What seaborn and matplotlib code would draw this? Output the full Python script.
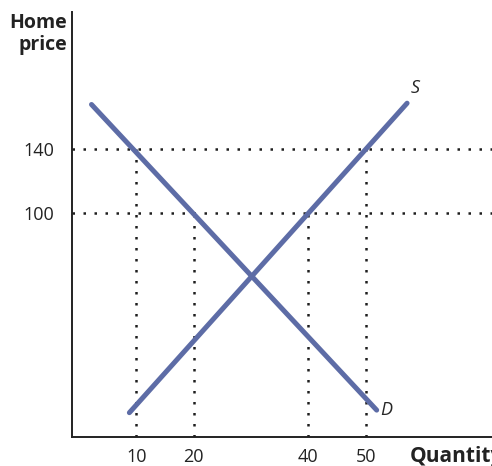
import matplotlib
matplotlib.use("Agg")
import matplotlib.pyplot as plt
import seaborn as sns
import pandas as pd

# values
quantity_ticks = [10, 20, 40, 50]
price_ticks = [100, 140]
demand_q = [2.2, 51.9]
demand_p = [168.0, -23.0]
supply_q = [8.8, 57.2]
supply_p = [-24.6, 168.8]
guide_q = [10, 20, 40, 50]
guide_p = [140, 100, 100, 140]

LINE_COLOUR = "#5d6ca6"
DOT_COLOUR = "#1e1e1e"

sns.set_style("white")
plt.rcParams["font.family"] = ["Open Sans", "DejaVu Sans"]

df = pd.concat(
    [
        pd.DataFrame({"q": supply_q, "p": supply_p, "curve": "S"}),
        pd.DataFrame({"q": demand_q, "p": demand_p, "curve": "D"}),
    ]
)

fig = plt.figure(figsize=(4.92, 4.66), dpi=100)
ax = fig.add_axes([72 / 492, 29 / 466, 1 - 72 / 492, 425 / 466])
ax.set_xlim(-1.2, 72.0)
ax.set_ylim(-39.8, 225.8)

# dotted guide lines
for q, p in zip(guide_q, guide_p):
    ax.plot([q, q], [-39.8, p], color=DOT_COLOUR, lw=1.8,
            dashes=(1, 3.4), dash_capstyle="butt", zorder=1)
for p in price_ticks:
    ax.axhline(p, color=DOT_COLOUR, lw=1.8, dashes=(1, 3.4),
               dash_capstyle="butt", zorder=1)

sns.lineplot(
    data=df, x="q", y="p", units="curve", estimator=None,
    color=LINE_COLOUR, lw=3.6, ax=ax, zorder=3, sort=False,
)

ax.text(58.6, 178.3, "S", style="italic", fontsize=13, ha="center", va="center")
ax.text(53.6, -22.9, "D", style="italic", fontsize=13, ha="center", va="center")

ax.set_xticks(quantity_ticks)
ax.set_yticks(price_ticks)
ax.set_xticklabels([str(v) for v in quantity_ticks])
ax.set_yticklabels([str(v) for v in price_ticks])
ax.tick_params(axis="x", length=0, pad=8, labelsize=13, colors="#222222")
ax.tick_params(axis="y", length=0, pad=13, labelsize=13, colors="#222222")
ax.set_xlabel("")
ax.set_ylabel("")

for side in ["top", "right"]:
    ax.spines[side].set_visible(False)
for side in ["left", "bottom"]:
    ax.spines[side].set_color("#222222")
    ax.spines[side].set_linewidth(1.4)

ax.text(-0.012, 0.948, "Home\nprice", transform=ax.transAxes, ha="right",
        va="center", fontsize=14, fontweight="bold", linespacing=1.15,
        color="#222222")
ax.text(0.805, -0.045, "Quantity", transform=ax.transAxes, ha="left",
        va="center", fontsize=15, fontweight="bold", color="#222222",
        clip_on=False)

fig.savefig("out.png", dpi=100)
